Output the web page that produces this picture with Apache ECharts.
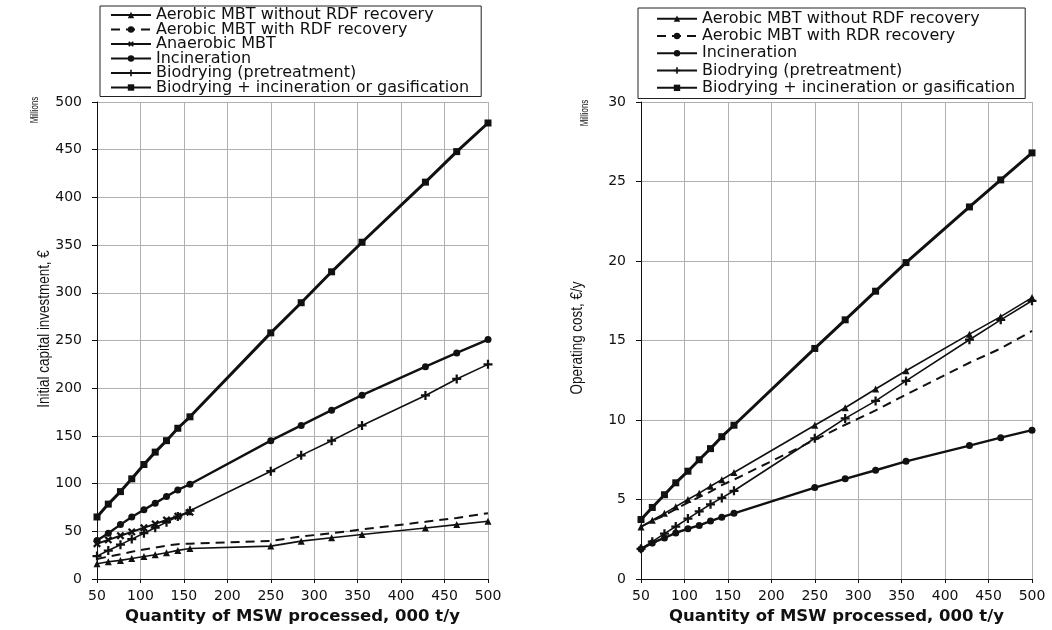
<!DOCTYPE html>
<html>
<head>
<meta charset="utf-8">
<script src="https://cdn.jsdelivr.net/npm/echarts@6/dist/echarts.min.js"></script>
<style>
html,body{margin:0;padding:0;background:#fff;}
#chart{width:1052px;height:630px;}
</style>
</head>
<body>
<div id="chart"></div>
<script>
// Quantity of MSW processed, 000 t/y (marker positions)
const xPts = [50, 63, 77, 90, 104, 117, 130, 143, 157, 250, 285, 320, 355, 428, 464, 500];

// Left chart: Initial capital investment (millions €)
const capAerNo  = [16, 18, 19.5, 21.5, 23.5, 25.5, 27.5, 30, 32, 34.5, 39.7, 43.2, 46.6, 53.5, 57, 60.5];
const capAerRdf = [21, 23.5, 26, 28.5, 31, 33, 35, 36.5, 37, 40, 44.5, 48, 52, 60, 64, 69];
const capAnaer  = [37, 41, 45.4, 49.4, 53.7, 57.8, 61.8, 65.8, 70];
const capIncin  = [40.4, 48, 57, 65, 72.6, 79.5, 86.4, 93.4, 99.3, 145, 161, 177, 192.7, 222.6, 237, 251];
const capBiodry = [24, 29.8, 36, 41.8, 48, 53.8, 59.6, 65.4, 71.6, 113, 129.6, 145, 161, 192.4, 209.7, 225];
const capBioInc = [65, 78.5, 91.6, 105, 120, 133, 145, 158, 170, 258, 289.6, 322, 353, 416, 448, 478];

// Right chart: Operating cost (millions €/y)
const opAerNo  = [3.27, 3.7, 4.13, 4.55, 5.0, 5.4, 5.83, 6.25, 6.7, 9.67, 10.77, 11.95, 13.1, 15.4, 16.5, 17.7];
const opAerRdr = [3.3, 3.65, 4.0, 4.4, 4.8, 5.15, 5.5, 5.9, 6.25, 8.75, 9.7, 10.6, 11.6, 13.6, 14.5, 15.6];
const opIncin  = [1.88, 2.27, 2.58, 2.9, 3.16, 3.37, 3.64, 3.89, 4.13, 5.75, 6.3, 6.84, 7.4, 8.39, 8.89, 9.36];
const opBiodry = [1.9, 2.35, 2.85, 3.3, 3.8, 4.25, 4.7, 5.1, 5.55, 8.85, 10.1, 11.2, 12.46, 15.05, 16.3, 17.5];
const opBioInc = [3.74, 4.5, 5.3, 6.05, 6.78, 7.5, 8.2, 8.95, 9.67, 14.5, 16.3, 18.1, 19.9, 23.4, 25.1, 26.8];

const leftNames = ['Aerobic MBT without RDF recovery', 'Aerobic MBT with RDF recovery', 'Anaerobic MBT', 'Incineration', 'Biodrying (pretreatment)', 'Biodrying + incineration or gasification'];
const rightNames = ['Aerobic MBT without RDF recovery', 'Aerobic MBT with RDR recovery', 'Incineration', 'Biodrying (pretreatment)', 'Biodrying + incineration or gasification'];

const xAxisTitle = 'Quantity of MSW processed, 000 t/y';
const leftYTitle = 'Initial capital investment, €';
const rightYTitle = 'Operating cost, €/y';
const unitLabel = 'Millions';

function pairs(vals) { return vals.map((v, i) => [xPts[i], v]); }

const INK = '#111';
const PLUS = 'path://M3,0h2v3h3v2h-3v3h-2v-3h-3v-2h3z';

const styles = {
  aerNo:  { symbol: 'triangle', symbolSize: 7, width: 1.6 },
  aerRdf: { symbol: 'none', symbolSize: 0, width: 2, dash: [9, 6] },
  anaer:  { symbol: PLUS, symbolSize: 9, rotate: 45, width: 2 },
  incin:  { symbol: 'circle', symbolSize: 7, width: 2.4 },
  biodry: { symbol: PLUS, symbolSize: 9, width: 1.6 },
  bioInc: { symbol: 'rect', symbolSize: 7, width: 3 }
};

function mk(name, vals, st, idx) {
  return {
    name: name, type: 'line', xAxisIndex: idx, yAxisIndex: idx,
    data: pairs(vals),
    symbol: st.symbol, symbolSize: st.symbolSize, symbolRotate: st.rotate || 0,
    showSymbol: st.symbol !== 'none',
    lineStyle: { color: INK, width: st.width, type: st.dash || 'solid' },
    itemStyle: { color: INK },
    animation: false, silent: true, z: 3
  };
}

const series = [
  mk(leftNames[0], capAerNo, styles.aerNo, 0),
  mk(leftNames[1], capAerRdf, styles.aerRdf, 0),
  mk(leftNames[2], capAnaer, styles.anaer, 0),
  mk(leftNames[3], capIncin, styles.incin, 0),
  mk(leftNames[4], capBiodry, styles.biodry, 0),
  mk(leftNames[5], capBioInc, styles.bioInc, 0),
  mk(rightNames[0], opAerNo, styles.aerNo, 1),
  mk(rightNames[1], opAerRdr, styles.aerRdf, 1),
  mk(rightNames[2], opIncin, styles.incin, 1),
  mk(rightNames[3], opBiodry, styles.biodry, 1),
  mk(rightNames[4], opBioInc, styles.bioInc, 1)
];

const FONT = 'DejaVu Sans';
const SANS = '"Liberation Sans", Arial, sans-serif';
const gridLine = { show: true, lineStyle: { color: '#b0b0b0', width: 1 } };

function xAx(idx) {
  return {
    gridIndex: idx, type: 'value', min: 50, max: 500, interval: 50,
    axisLine: { show: true, onZero: false, lineStyle: { color: INK, width: 1 } },
    axisTick: { show: true, length: 4, lineStyle: { color: INK } },
    axisLabel: { color: INK, fontFamily: FONT, fontSize: 14, margin: 10 },
    splitLine: gridLine,
    name: xAxisTitle, nameLocation: 'middle', nameGap: 29,
    nameTextStyle: { color: INK, fontFamily: FONT, fontSize: 16.5, fontWeight: 'bold' }
  };
}
function yAx(idx, max, interval) {
  return {
    gridIndex: idx, type: 'value', min: 0, max: max, interval: interval,
    axisLine: { show: true, lineStyle: { color: INK, width: 1 } },
    axisTick: { show: true, length: 5, lineStyle: { color: INK } },
    axisLabel: { color: INK, fontFamily: FONT, fontSize: 14, margin: 15 },
    splitLine: gridLine
  };
}

function legendCfg(names, left, top, lh, gap, pad) {
  return {
    data: names, orient: 'vertical', left: left, top: top,
    itemWidth: 40, itemHeight: 8, itemGap: gap,
    padding: pad,
    borderColor: '#222', borderWidth: 1, backgroundColor: '#fff',
    selectedMode: false,
    textStyle: { color: INK, fontFamily: FONT, fontSize: 16, lineHeight: lh }
  };
}

function vText(text, x, y, size, sx) {
  return { type: 'text', x: x, y: y, rotation: Math.PI / 2, scaleX: sx, scaleY: 1,
    style: { text: text, font: size + 'px ' + SANS, fill: INK, align: 'center', verticalAlign: 'middle' } };
}

const option = {
  backgroundColor: '#fff',
  animation: false,
  grid: [
    { left: 97, top: 102, width: 391, height: 483 },
    { left: 641, top: 102, width: 391, height: 484 }
  ],
  xAxis: [xAx(0), xAx(1)],
  yAxis: [yAx(0, 500, 50), yAx(1, 30, 5)],
  legend: [
    legendCfg(leftNames, 100, 6, 14.5, -1.5, [1, 12, 1, 10]),
    legendCfg(rightNames, 638, 8, 17.3, 0, [2, 10, 2, 18])
  ],
  graphic: [
    vText(leftYTitle, 45, 329, 16, 0.84),
    vText(unitLabel, 35, 110, 10, 0.8),
    vText(rightYTitle, 578, 338, 16, 0.84),
    vText(unitLabel, 585, 113, 10, 0.8)
  ],
  series: series
};

const chart = echarts.init(document.getElementById('chart'), null, { renderer: 'canvas' });
chart.setOption(option);
</script>
</body>
</html>
